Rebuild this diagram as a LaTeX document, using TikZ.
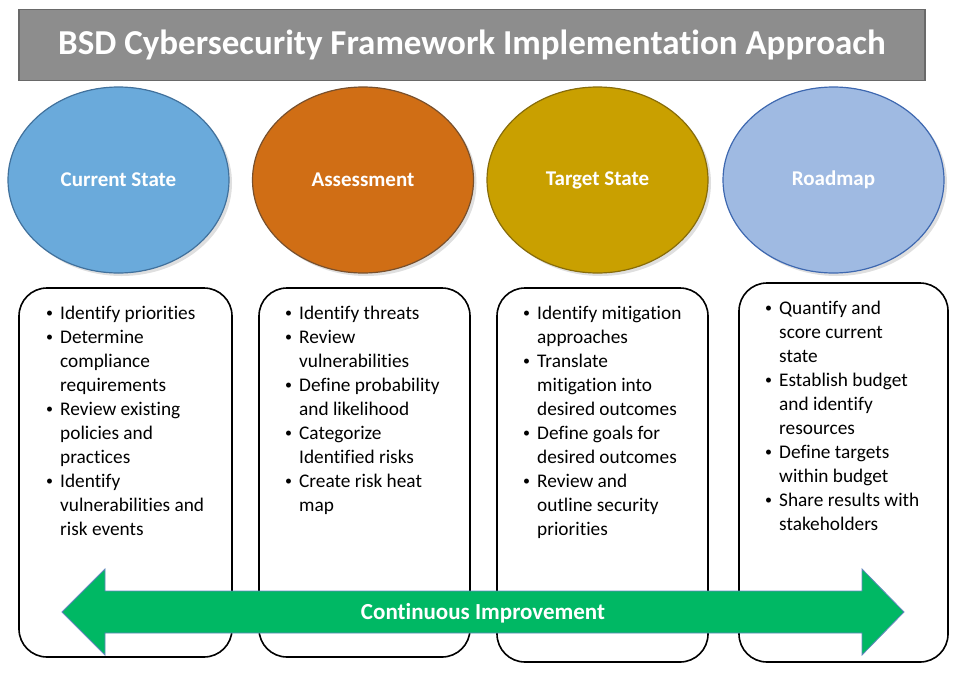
\documentclass[tikz,border=0pt]{standalone}
\usepackage{fontspec}
\setmainfont{Carlito}[Ligatures=NoCommon]
\usepackage{tikz}
\usetikzlibrary{
  shapes.geometric, % for ellipse nodes
  shadows, % for drop shadows
  positioning, % for relative node positioning
  calc, % for position calculations
}
\definecolor{title-gray}{RGB}{141, 141, 141}
\definecolor{title-edge}{RGB}{105, 105, 105}
\definecolor{current-blue}{RGB}{106, 170, 219}
\definecolor{current-edge}{RGB}{65, 113, 156}
\definecolor{assess-orange}{RGB}{208, 110, 21}
\definecolor{assess-edge}{RGB}{120, 80, 45}
\definecolor{target-gold}{RGB}{201, 160, 0}
\definecolor{target-edge}{RGB}{135, 108, 10}
\definecolor{roadmap-blue}{RGB}{159, 186, 226}
\definecolor{roadmap-edge}{RGB}{62, 104, 176}
\definecolor{improve-green}{RGB}{0, 184, 100}
\definecolor{improve-edge}{RGB}{100, 135, 190}

\newcommand{\bitem}{\llap{\raisebox{1.6pt}{\fontsize{14}{14}\selectfont\textbullet}\hspace{7pt}}}

\begin{document}
\begin{tikzpicture}[x=1pt, y=-1pt,%
    phase/.style={ellipse, draw, line width=1.2pt, minimum width=221pt,%
      minimum height=186pt, text=white, font=\fontsize{21}{25}\selectfont\bfseries,%
      drop shadow={shadow xshift=3pt, shadow yshift=-3pt, opacity=0.25}},%
    stepbox/.style={draw=black, line width=1.6pt, rounded corners=28pt, fill=white},%
    bullets/.style={anchor=base west, inner sep=0pt, font=\fontsize{19.3}{24}\selectfont},%
  ]
  \useasboundingbox (0,0) rectangle (960,672);

  % title bar
  \node[draw=title-edge, line width=1.2pt, fill=title-gray, minimum width=906pt,%
    minimum height=71pt, text=white, font=\fontsize{35}{42}\selectfont\bfseries]%
    (title) at (472,45) {BSD Cybersecurity Framework Implementation Approach};

  % phases
  \node[phase, fill=current-blue, draw=current-edge] (current) at (118.5,180) {Current State};
  \node[phase, fill=assess-orange, draw=assess-edge] (assess) at (363,180) {Assessment};
  \node[phase, fill=target-gold, draw=target-edge] (target) at (597.5,180) {Target State};
  \node[phase, fill=roadmap-blue, draw=roadmap-edge] (roadmap) at (833.5,180) {Roadmap};

  % step boxes
  \node[stepbox, minimum width=213pt, minimum height=369pt] (current-box) at (125.5,472.5) {};
  \node[stepbox, minimum width=211pt, minimum height=369pt] (assess-box) at (364.5,472.5) {};
  \node[stepbox, minimum width=211pt, minimum height=374pt] (target-box) at (602.5,475) {};
  \node[stepbox, minimum width=209pt, minimum height=379pt] (roadmap-box) at (843.5,472.5) {};

  \node[bullets] (current-list) at (60,319) {\begin{tabular}[t]{@{}l@{}}
      \bitem Identify priorities\\
      \bitem Determine\\
      compliance\\
      requirements\\
      \bitem Review existing\\
      policies and\\
      practices\\
      \bitem Identify\\
      vulnerabilities and\\
      risk events
    \end{tabular}};
  \node[bullets] (assess-list) at (299,319) {\begin{tabular}[t]{@{}l@{}}
      \bitem Identify threats\\
      \bitem Review\\
      vulnerabilities\\
      \bitem Define probability\\
      and likelihood\\
      \bitem Categorize\\
      Identified risks\\
      \bitem Create risk heat\\
      map
    \end{tabular}};
  \node[bullets] (target-list) at (537,319) {\begin{tabular}[t]{@{}l@{}}
      \bitem Identify mitigation\\
      approaches\\
      \bitem Translate\\
      mitigation into\\
      desired outcomes\\
      \bitem Define goals for\\
      desired outcomes\\
      \bitem Review and\\
      outline security\\
      priorities
    \end{tabular}};
  \node[bullets] (roadmap-list) at (779,314) {\begin{tabular}[t]{@{}l@{}}
      \bitem Quantify and\\
      score current\\
      state\\
      \bitem Establish budget\\
      and identify\\
      resources\\
      \bitem Define targets\\
      within budget\\
      \bitem Share results with\\
      stakeholders
    \end{tabular}};

  % continuous improvement arrow
  \filldraw[fill=improve-green, draw=improve-edge, line width=0.8pt]
    (62,612) -- (105,569) -- (105,591) -- (862,591) -- (862,569) -- (904,612)
    -- (862,655) -- (862,633) -- (105,633) -- (105,655) -- cycle;
  \node[text=white, font=\fontsize{23}{28}\selectfont\bfseries] (improve) at (483,613) {Continuous Improvement};
\end{tikzpicture}
\end{document}
